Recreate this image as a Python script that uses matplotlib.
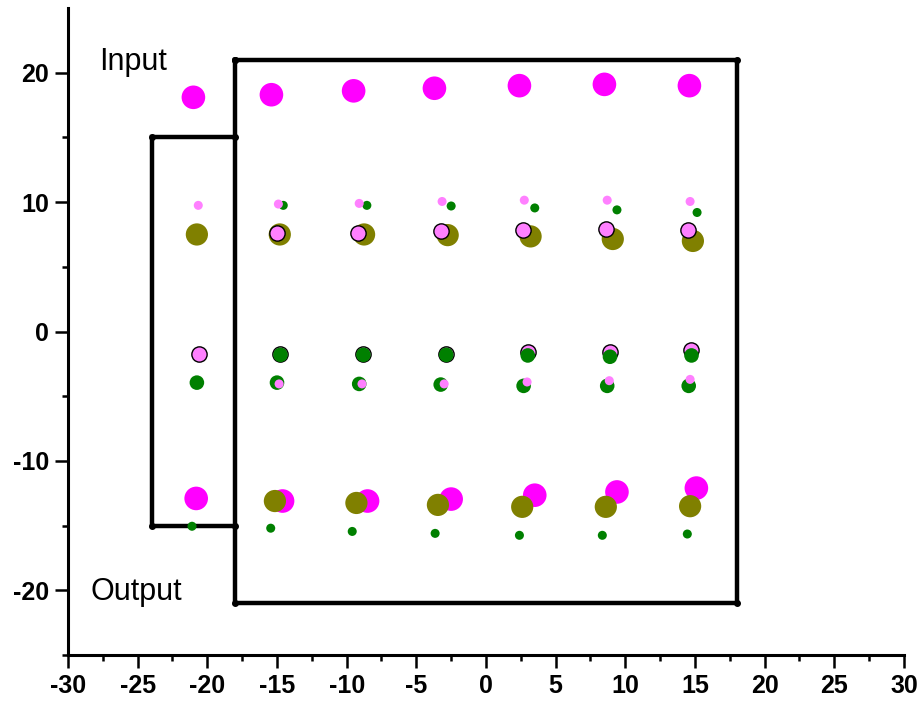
import matplotlib
matplotlib.use("Agg")
import matplotlib.pyplot as plt
from matplotlib.ticker import MultipleLocator, FixedLocator

plt.rcParams['font.family'] = ['Liberation Sans', 'DejaVu Sans']
plt.rcParams['axes.unicode_minus'] = False

# Big magenta markers (Input row on top, Output row at bottom)
mag_x = [-21.0, -15.4, -9.5, -3.7, 2.4, 8.5, 14.6, -20.8, -14.6, -8.5, -2.5, 3.5, 9.4, 15.1]
mag_y = [18.1, 18.3, 18.6, 18.8, 19.0, 19.1, 19.0, -12.9, -13.1, -13.1, -12.95, -12.65, -12.4, -12.1]

# Olive markers
olive_x = [-20.75, -14.8, -8.75, -2.75, 3.2, 9.1, 14.85, -15.15, -9.3, -3.45, 2.6, 8.6, 14.65]
olive_y = [7.5, 7.5, 7.5, 7.45, 7.35, 7.15, 7.0, -13.1, -13.25, -13.4, -13.55, -13.55, -13.5]

# Pink markers with black edge
pinke_x = [-15.0, -9.2, -3.25, 2.65, 8.6, 14.5, -20.6, -14.75, -8.8, -2.9, 3.0, 8.9, 14.75]
pinke_y = [7.6, 7.6, 7.75, 7.85, 7.9, 7.85, -1.7, -1.75, -1.75, -1.7, -1.55, -1.55, -1.45]

# Medium green markers
greenm_x = [-14.75, -8.8, -2.85, 3.0, 8.9, 14.75, -20.75, -15.0, -9.1, -3.25, 2.7, 8.7, 14.55]
greenm_y = [-1.8, -1.8, -1.8, -1.85, -1.95, -1.85, -3.95, -3.95, -4.05, -4.1, -4.2, -4.2, -4.2]

# Small green markers
greens_x = [-14.55, -8.55, -2.5, 3.5, 9.4, 15.15, -21.1, -15.45, -9.6, -3.65, 2.4, 8.35, 14.45]
greens_y = [9.75, 9.75, 9.7, 9.55, 9.4, 9.2, -15.05, -15.2, -15.45, -15.6, -15.75, -15.75, -15.65]

# Small pink markers
pinks_x = [-20.65, -14.9, -9.1, -3.15, 2.75, 8.7, 14.65, -14.85, -8.9, -3.0, 2.95, 8.85, 14.65]
pinks_y = [9.75, 9.85, 9.9, 10.05, 10.15, 10.15, 10.05, -4.05, -4.05, -4.05, -3.9, -3.8, -3.7]

# Frames
big_rect_x = [-18, 18, 18, -18, -18]
big_rect_y = [21, 21, -21, -21, 21]
small_rect_x = [-18, -24, -24, -18]
small_rect_y = [15, 15, -15, -15]

labels = ["Input", "Output"]
label_x = [-25.3, -25.1]
label_y = [20.8, -20.1]

fig = plt.figure(figsize=(9.22, 7.04), dpi=100)
ax = fig.add_axes([0.07375, 0.0696, 0.9067, 0.919])

ax.plot(big_rect_x, big_rect_y, color='black', lw=3.2, solid_joinstyle='miter',
        marker='o', markersize=4, zorder=1)
ax.plot(small_rect_x, small_rect_y, color='black', lw=3.2, solid_joinstyle='miter',
        marker='o', markersize=4, zorder=1)

ax.scatter(mag_x, mag_y, s=17**2, color='#FF00FF', edgecolors='none', zorder=2)
ax.scatter(olive_x, olive_y, s=16**2, color='#808000', edgecolors='none', zorder=3)
ax.scatter(pinke_x, pinke_y, s=11**2, color='#FF80FF', edgecolors='black', linewidths=1.0, zorder=4)
ax.scatter(greenm_x, greenm_y, s=10.5**2, color='#008000', edgecolors='none', zorder=5)
ax.scatter(greens_x, greens_y, s=6.5**2, color='#008000', edgecolors='none', zorder=5)
ax.scatter(pinks_x, pinks_y, s=6.5**2, color='#FF80FF', edgecolors='none', zorder=6)

for t, x, y in zip(labels, label_x, label_y):
    ax.text(x, y, t, fontsize=22, ha='center', va='center', color='black')

ax.set_xlim(-30, 30)
ax.set_ylim(-25, 25)
ax.xaxis.set_major_locator(MultipleLocator(5))
ax.xaxis.set_minor_locator(MultipleLocator(2.5))
ax.yaxis.set_major_locator(MultipleLocator(10))
ax.yaxis.set_minor_locator(FixedLocator([-25, -15, -5, 5, 15]))

for s in ['top', 'right']:
    ax.spines[s].set_visible(False)
for s in ['left', 'bottom']:
    ax.spines[s].set_linewidth(2.2)

ax.tick_params(which='major', direction='out', length=9.5, width=1.8, labelsize=18, pad=4)
ax.tick_params(which='minor', direction='out', length=4.5, width=1.8)
for lab in ax.get_xticklabels() + ax.get_yticklabels():
    lab.set_fontweight('bold')

fig.savefig('out.png', dpi=100)
